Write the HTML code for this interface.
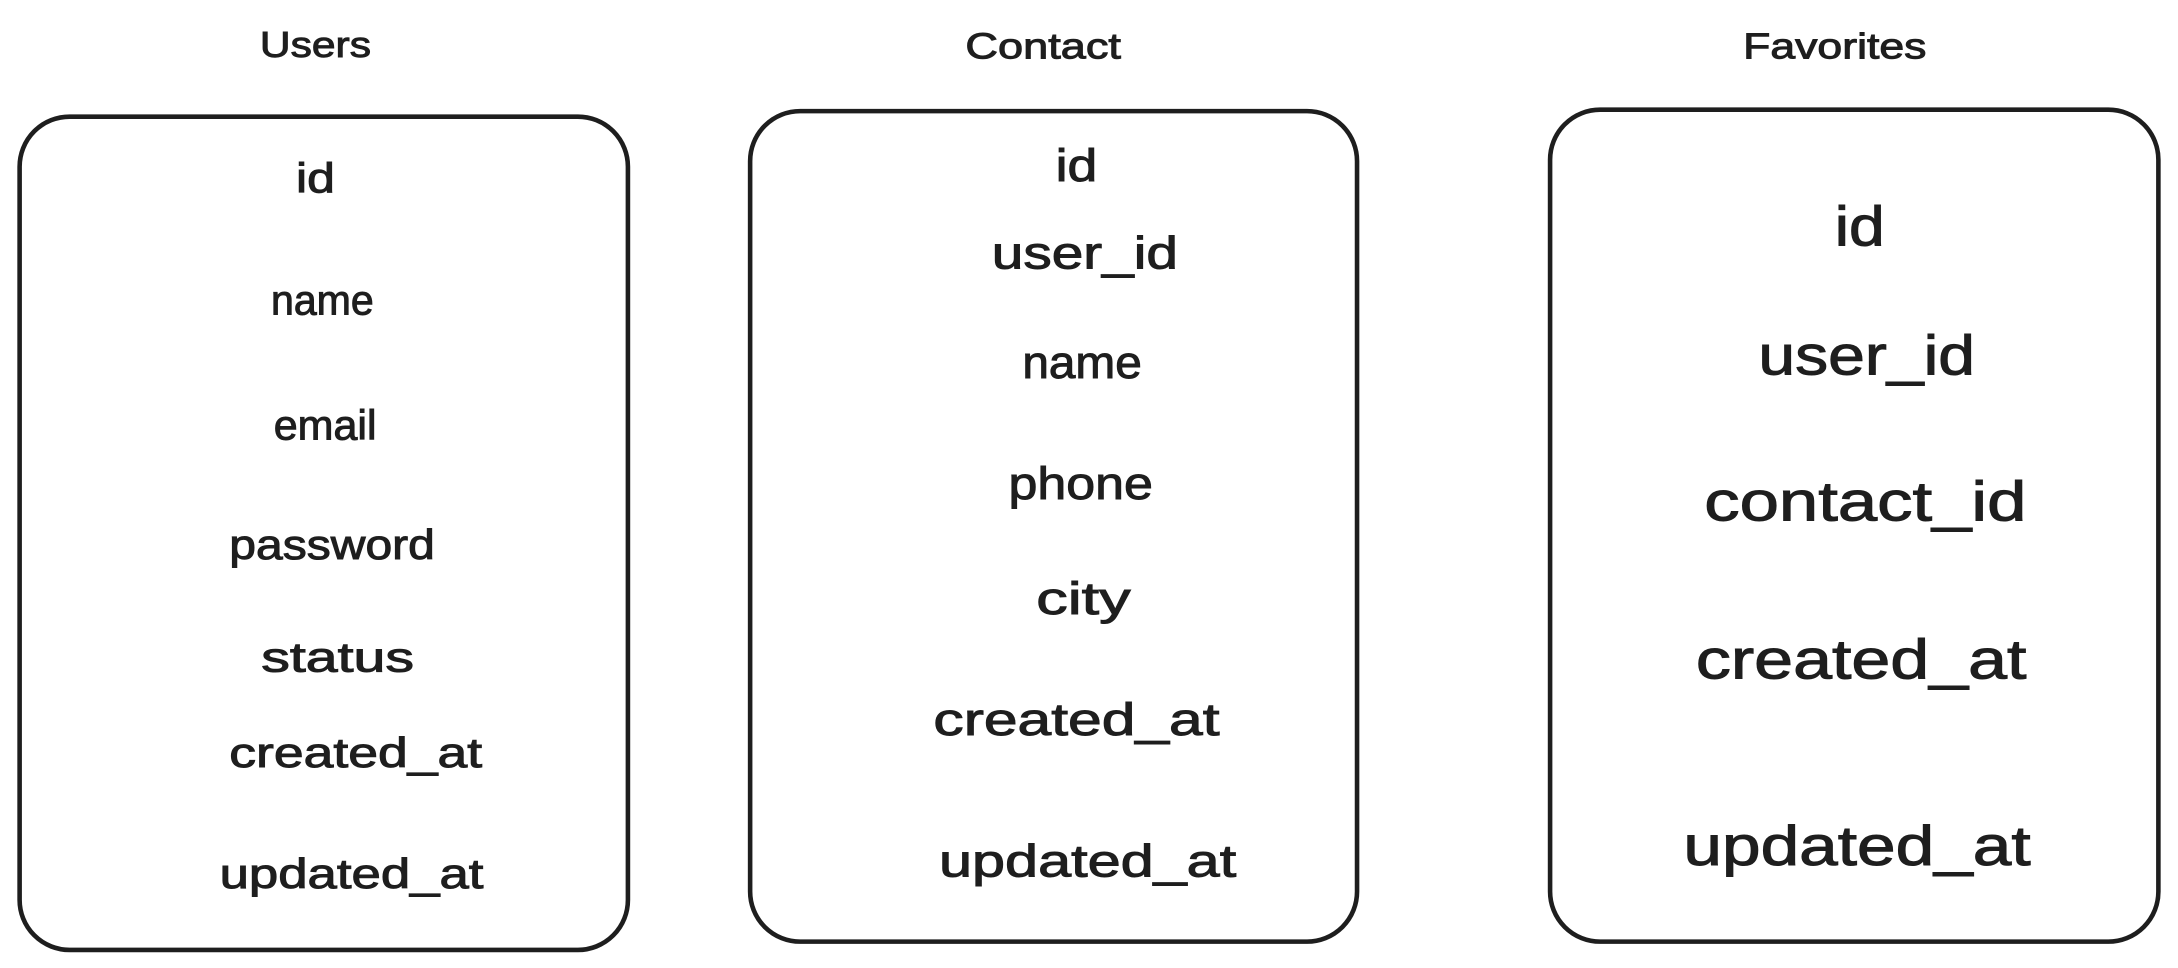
<!DOCTYPE html>
<html><head><meta charset="utf-8"><style>html,body{margin:0;padding:0;background:#fff}svg{display:block}</style></head>
<body>
<svg width="2178" height="968" viewBox="0 0 1568 697" xmlns="http://www.w3.org/2000/svg" font-family="Liberation Sans, sans-serif" fill="#1e1e1e" text-anchor="middle" dominant-baseline="central">
<rect x="0" y="0" width="1568" height="697" fill="#fff"/>
<g fill="none" stroke="#1e1e1e" stroke-width="3.3">
<rect x="14" y="84" width="438" height="600" rx="36"/>
<rect x="540" y="80" width="437" height="598" rx="36"/>
<rect x="1116" y="79" width="438" height="599" rx="36"/>
</g>
<g stroke="#1e1e1e" stroke-width="0.7">
<g font-size="26">
<text x="227" y="32" textLength="80" lengthAdjust="spacingAndGlyphs">Users</text>
<text x="751" y="33" textLength="112" lengthAdjust="spacingAndGlyphs">Contact</text>
<text x="1321" y="33" textLength="132" lengthAdjust="spacingAndGlyphs">Favorites</text>
</g>
<g font-size="30">
<text x="227" y="128" textLength="28" lengthAdjust="spacingAndGlyphs">id</text>
<text x="232" y="216" textLength="74" lengthAdjust="spacingAndGlyphs">name</text>
<text x="234" y="306" textLength="74" lengthAdjust="spacingAndGlyphs">email</text>
<text x="239" y="392" textLength="148" lengthAdjust="spacingAndGlyphs">password</text>
<text x="243" y="473" textLength="110" lengthAdjust="spacingAndGlyphs">status</text>
<text x="256" y="542" textLength="182" lengthAdjust="spacingAndGlyphs">created_at</text>
<text x="253" y="629" textLength="190" lengthAdjust="spacingAndGlyphs">updated_at</text>
</g>
<g font-size="33">
<text x="775" y="119" textLength="30" lengthAdjust="spacingAndGlyphs">id</text>
<text x="781" y="182" textLength="134" lengthAdjust="spacingAndGlyphs">user_id</text>
<text x="779" y="261" textLength="86" lengthAdjust="spacingAndGlyphs">name</text>
<text x="778" y="348" textLength="104" lengthAdjust="spacingAndGlyphs">phone</text>
<text x="780" y="431" textLength="68" lengthAdjust="spacingAndGlyphs">city</text>
<text x="775" y="518" textLength="206" lengthAdjust="spacingAndGlyphs">created_at</text>
<text x="783" y="620" textLength="214" lengthAdjust="spacingAndGlyphs">updated_at</text>
</g>
<g font-size="40">
<text x="1339" y="163" textLength="36" lengthAdjust="spacingAndGlyphs">id</text>
<text x="1344" y="256" textLength="156" lengthAdjust="spacingAndGlyphs">user_id</text>
<text x="1343" y="361" textLength="232" lengthAdjust="spacingAndGlyphs">contact_id</text>
<text x="1340" y="475" textLength="238" lengthAdjust="spacingAndGlyphs">created_at</text>
<text x="1337" y="609" textLength="250" lengthAdjust="spacingAndGlyphs">updated_at</text>
</g>
</g>
</svg>
</body></html>
